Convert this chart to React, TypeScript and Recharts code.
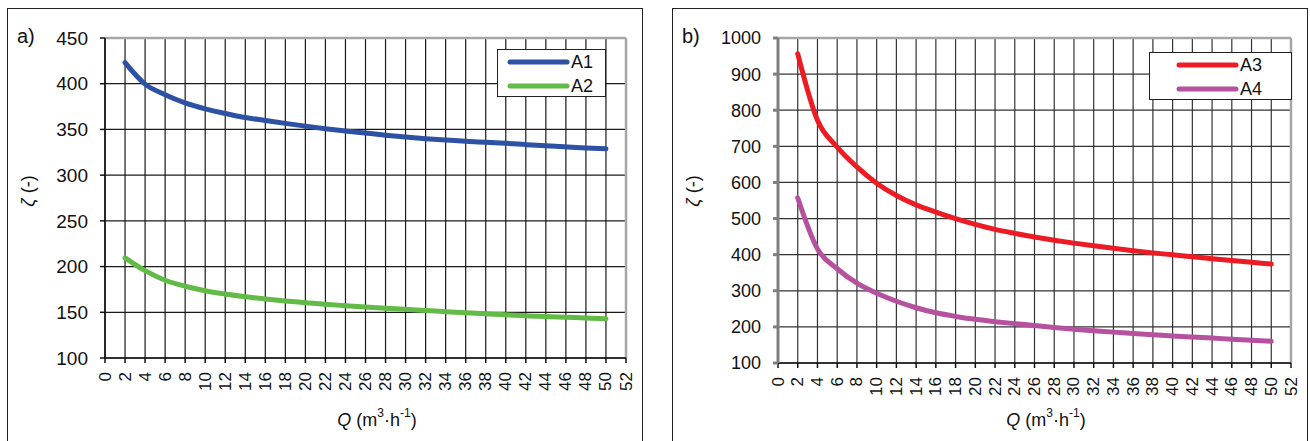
import * as React from 'react';
import {LineChart, Line, XAxis, YAxis, CartesianGrid, Legend, ReferenceLine, Label} from 'recharts';

// flow rate Q (m3/h)
const qValues = [2, 4, 6, 8, 10, 12, 14, 16, 18, 20, 22, 24, 26, 28, 30, 32, 34, 36, 38, 40, 42, 44, 46, 48, 50];

// loss coefficients
const a1 = [423, 399.5, 388, 379, 372.5, 367.5, 363, 359.8, 356.6, 353.6, 350.8, 348.3, 346, 343.7, 341.6, 339.9, 338.4, 337, 335.9, 334.8, 333.4, 332.1, 330.9, 329.8, 328.8];
const a2 = [209.5, 195.5, 185, 178.5, 173.6, 170, 167, 164.5, 162.3, 160.5, 158.7, 157.2, 155.8, 154.5, 153.2, 152, 150.7, 149.5, 148.3, 147.2, 146.2, 145.3, 144.5, 143.7, 143];
const a3 = [956, 772, 698, 643, 598, 564, 538, 518, 500, 484, 470, 459, 449, 440, 432, 424.5, 417.5, 411, 405, 399.5, 394, 389, 384, 379, 374];
const a4 = [557, 416, 361, 321, 293, 271, 253, 239, 229, 221, 214.5, 209, 204, 198.5, 193.5, 189.5, 185.5, 182, 178.5, 175, 172, 169, 166, 163, 160];

const xTicks = [0, 2, 4, 6, 8, 10, 12, 14, 16, 18, 20, 22, 24, 26, 28, 30, 32, 34, 36, 38, 40, 42, 44, 46, 48, 50, 52];
const leftYTicks = [100, 150, 200, 250, 300, 350, 400, 450];
const rightYTicks = [100, 200, 300, 400, 500, 600, 700, 800, 900, 1000];

const FONT = '"Liberation Sans", Arial, sans-serif';

const leftData = qValues.map((q, i) => ({q, A1: a1[i], A2: a2[i]}));
const rightData = qValues.map((q, i) => ({q, A3: a3[i], A4: a4[i]}));

function XTick(props: any) {
    const {x, y, payload} = props;
    return (
        <text x={x} y={y} transform={`rotate(-90 ${x} ${y})`} textAnchor="end" dominantBaseline="central"
              fontSize={17} fill="#111" fontFamily={FONT}>{payload.value}</text>
    );
}

const zetaTitle = () => (
    <text x={20} y={182} transform="rotate(-90 20 182)" textAnchor="middle" dominantBaseline="central"
          fontSize={18} fill="#111" fontFamily={FONT}>
        <tspan fontStyle="italic">ζ</tspan> (-)
    </text>
);

const qTitle = (cx: number) => () => (
    <text x={cx} y={411} textAnchor="middle" dominantBaseline="central" fontSize={18} fill="#111" fontFamily={FONT}>
        <tspan fontStyle="italic">Q</tspan> (m<tspan dy={-7} fontSize={12}>3</tspan><tspan dy={7}>·h</tspan><tspan dy={-7} fontSize={12}>-1</tspan><tspan dy={7}>)</tspan>
    </text>
);

const letter = (s: string, x: number) => () => (
    <text x={x} y={34} fontSize={20} fill="#111" fontFamily={FONT}>{s}</text>
);

const legendBox = (left: number, top: number, width: number, lineX: number, textX: number) => (props: any) => (
    <div style={{position: 'absolute', left, top, width, height: 48, border: '1px solid #222', background: '#fff',
        boxSizing: 'border-box', fontFamily: FONT, fontSize: 18, color: '#111'}}>
        {props.payload.map((p: any, i: number) => (
            <div key={p.value} style={{position: 'absolute', left: 0, top: 1 + i * 24, height: 22, width: '100%'}}>
                <svg width={width} height={22} style={{position: 'absolute', left: 0, top: 0}}>
                    <line x1={lineX} x2={lineX + 57} y1={11} y2={11} stroke={p.color} strokeWidth={5} strokeLinecap="round"/>
                </svg>
                <span style={{position: 'absolute', left: textX, top: 0, lineHeight: '22px'}}>{p.value}</span>
            </div>
        ))}
    </div>
);

interface Series { key: string, color: string }

interface PanelProps {
    pageLeft: number,
    data: any[],
    series: Series[],
    yTicks: number[],
    left: number,
    bottom: number,
    grid: string,
    yAxisStroke: string,
    yAxisWidth: number,
    yFont: number,
    letterText: string,
    titleX: number,
    legend: (props: any) => React.ReactElement,
}

function Panel(props: PanelProps) {
    const yMax = props.yTicks[props.yTicks.length - 1];
    return (
        <div style={{position: 'absolute', left: props.pageLeft, top: 9, width: 634, height: 432, outline: '1.5px solid #222'}}>
            <LineChart width={634} height={432} data={props.data}
                       margin={{top: 29, right: 16, left: props.left, bottom: props.bottom}}>
                <CartesianGrid stroke={props.grid} strokeWidth={1.2}/>
                <XAxis dataKey="q" type="number" domain={[0, 52]} ticks={xTicks} interval={0} height={40}
                       tickSize={5} tickMargin={9} tick={<XTick/>} stroke="#111" strokeWidth={1.5}>
                    <Label content={qTitle(props.titleX)}/>
                </XAxis>
                <YAxis type="number" domain={[props.yTicks[0], yMax]} ticks={props.yTicks} interval={0}
                       width={props.yAxisWidth} tickSize={5} tickMargin={12} stroke={props.yAxisStroke}
                       strokeWidth={props.yAxisStroke === '#111' ? 1.5 : 3}
                       tick={{fontSize: props.yFont, fill: '#111', fontFamily: FONT}}>
                    <Label content={zetaTitle}/>
                    <Label content={letter(props.letterText, 9)}/>
                </YAxis>
                <ReferenceLine x={52} stroke="#A6A6A6" strokeWidth={2.5}/>
                <ReferenceLine y={yMax} stroke="#A6A6A6" strokeWidth={2.5}/>
                {props.series.map(s => (
                    <Line key={s.key} dataKey={s.key} type="monotone" stroke={s.color} strokeWidth={5}
                          strokeLinecap="round" dot={false} isAnimationActive={false}/>
                ))}
                <Legend layout="vertical" align="center" verticalAlign="middle" content={props.legend}
                        wrapperStyle={{position: 'absolute', left: 0, top: 0, width: 634, height: 432}}/>
            </LineChart>
        </div>
    );
}

export default function App() {
    return (
        <div style={{position: 'absolute', left: 0, top: 0, width: 1310, height: 441, background: '#fff', overflow: 'hidden'}}>
            <Panel pageLeft={8} data={leftData}
                   series={[{key: 'A1', color: '#2D51A3'}, {key: 'A2', color: '#62BB46'}]}
                   yTicks={leftYTicks} left={37} bottom={43} grid="#1a1a1a" yAxisStroke="#111" yAxisWidth={60}
                   yFont={19} letterText="a)" titleX={369}
                   legend={legendBox(489, 40, 109, 12, 73)}/>
            <Panel pageLeft={673} data={rightData}
                   series={[{key: 'A3', color: '#ED1C24'}, {key: 'A4', color: '#B5519E'}]}
                   yTicks={rightYTicks} left={45} bottom={38} grid="#333" yAxisStroke="#7f7f7f" yAxisWidth={60}
                   yFont={18} letterText="b)" titleX={373}
                   legend={legendBox(476, 43, 143, 29, 90)}/>
        </div>
    );
}
